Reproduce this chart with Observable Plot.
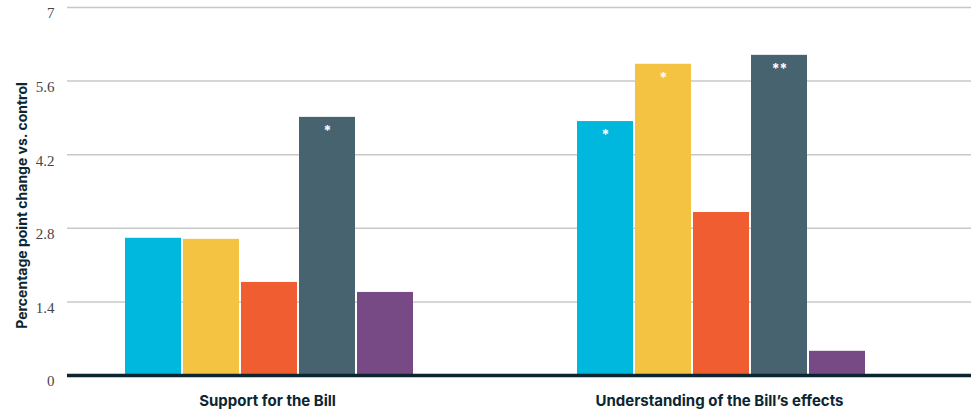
<!DOCTYPE html>
<html><head><meta charset="utf-8">
<script src="https://cdn.jsdelivr.net/npm/d3@7"></script>
<script src="https://cdn.jsdelivr.net/npm/@observablehq/plot@0.6"></script>
<style>body{margin:0;background:#fff}</style>
</head><body><div id="chart"></div>
<script>
const groups = ["Support for the Bill", "Understanding of the Bill’s effects"];
const series = ["Message 1", "Message 2", "Message 3", "Message 4", "Message 5"];
const colors = ["#00b7dd", "#f5c342", "#f05d31", "#46636f", "#774a86"];
const supportValues = [2.61, 2.59, 1.77, 4.91, 1.58];
const understandingValues = [4.83, 5.92, 3.10, 6.09, 0.46];
const supportSig = ["", "", "", "*", ""];
const understandingSig = ["*", "*", "", "**", ""];
const yTicks = [0, 1.4, 2.8, 4.2, 5.6, 7];
const yLabel = "Percentage point change vs. control";

const data = [];
series.forEach((s, i) => {
  data.push({group: groups[0], series: s, value: supportValues[i], sig: supportSig[i]});
  data.push({group: groups[1], series: s, value: understandingValues[i], sig: understandingSig[i]});
});

const chart = Plot.plot({
  width: 971, height: 415,
  marginLeft: 67, marginRight: 0, marginTop: 7, marginBottom: 40,
  style: {background: "#fff", fontFamily: "Inter, sans-serif"},
  y: {domain: [0, 7], axis: null},
  x: {domain: series, axis: null, paddingInner: 0.03, paddingOuter: 1.362, align: 0.355},
  fx: {domain: groups, padding: 0, label: null, axis: null},
  color: {domain: series, range: colors},
  marks: [
    Plot.gridY(yTicks.slice(1), {stroke: "#c8c8c8", strokeOpacity: 1, strokeWidth: 1.5}),
    Plot.barY(data, {fx: "group", x: "series", y: "value", fill: "series"}),
    Plot.text(data.filter(d => d.sig), {fx: "group", x: "series", y: "value", text: "sig",
      dy: 14, fill: "#fff", fontWeight: 700, fontSize: 14}),
    Plot.ruleY([0], {stroke: "#0b2631", strokeWidth: 3.5}),
    Plot.axisY(yTicks, {anchor: "left", tickSize: 0, tickPadding: 13,
      label: yLabel, labelAnchor: "center", labelOffset: 50, labelArrow: "none",
      tickFormat: d => String(d), dy: 6, fontFamily: "Liberation Serif", fontSize: 15, fill: "#454545"}),
    Plot.axisFx({anchor: "bottom", tickSize: 0, tickPadding: 20, label: null, dx: -26,
      fontWeight: 700, fontSize: 15, fill: "#0b2631"})
  ]
});
d3.select(chart).selectAll('g[aria-label="y-axis label"]').each(function() {
  const g = d3.select(this);
  const t = g.attr("transform") || "";
  g.attr("transform", t + " translate(0,14)")
   .attr("font-family", "Inter, sans-serif").attr("font-weight", 700)
   .attr("font-size", 14).attr("fill", "#0b2631");
});
document.getElementById("chart").append(chart);
</script>
</body></html>
